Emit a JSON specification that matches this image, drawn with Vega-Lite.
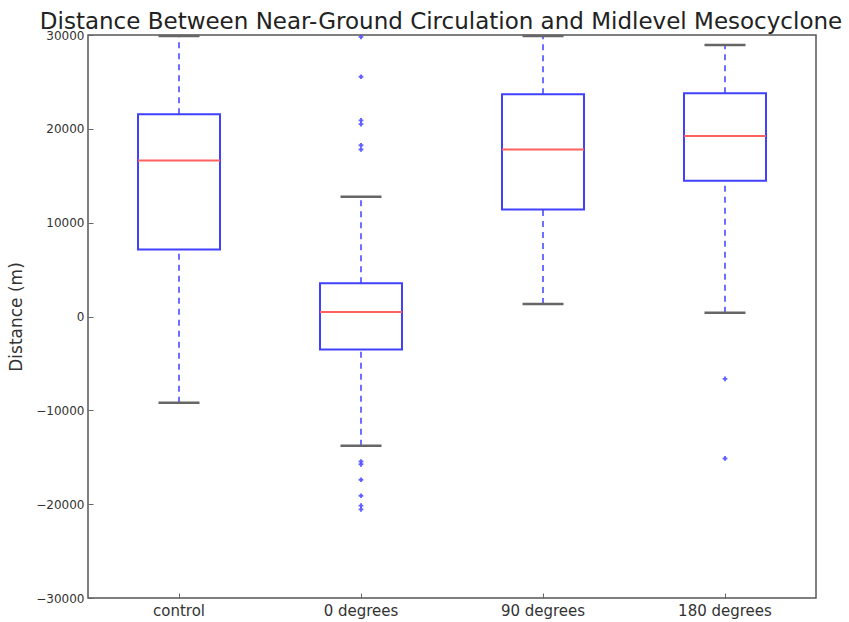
{
  "$schema": "https://vega.github.io/schema/vega-lite/v6.json",
  "width": 728,
  "height": 563,
  "autosize": {"type": "none"},
  "padding": {"left": 88, "top": 35, "right": 33, "bottom": 24},
  "background": "white",
  "title": {
    "text": "Distance Between Near-Ground Circulation and Midlevel Mesocyclone",
    "font": "DejaVu Sans",
    "fontSize": 23,
    "fontWeight": "normal",
    "color": "#222222",
    "anchor": "middle",
    "offset": -5,
    "dx": -11
  },
  "config": {
    "view": {"stroke": "#555555", "strokeWidth": 1.5},
    "axis": {
      "domain": false,
      "grid": false,
      "labelFont": "DejaVu Sans",
      "titleFont": "DejaVu Sans",
      "labelColor": "#333333",
      "titleColor": "#333333",
      "tickColor": "#666666",
      "titleFontWeight": "normal"
    }
  },
  "datasets": {
    "stats": [
      {"group": "control", "lower": -9180, "q1": 7140, "median": 16630, "q3": 21550, "upper": 29900},
      {"group": "0 degrees", "lower": -13780, "q1": -3510, "median": 480, "q3": 3550, "upper": 12750},
      {"group": "90 degrees", "lower": 1340, "q1": 11390, "median": 17810, "q3": 23690, "upper": 29900},
      {"group": "180 degrees", "lower": 410, "q1": 14460, "median": 19230, "q3": 23800, "upper": 28930}
    ],
    "outliers": [
      {"group": "0 degrees", "distance": 29800},
      {"group": "0 degrees", "distance": 25550},
      {"group": "0 degrees", "distance": 20900},
      {"group": "0 degrees", "distance": 20500},
      {"group": "0 degrees", "distance": 18250},
      {"group": "0 degrees", "distance": 17800},
      {"group": "0 degrees", "distance": -15450},
      {"group": "0 degrees", "distance": -15750},
      {"group": "0 degrees", "distance": -17400},
      {"group": "0 degrees", "distance": -19100},
      {"group": "0 degrees", "distance": -20150},
      {"group": "0 degrees", "distance": -20550},
      {"group": "180 degrees", "distance": -6650},
      {"group": "180 degrees", "distance": -15130}
    ]
  },
  "encoding": {
    "x": {
      "field": "group",
      "type": "nominal",
      "sort": ["control", "0 degrees", "90 degrees", "180 degrees"],
      "scale": {"paddingInner": 0, "paddingOuter": 0},
      "axis": {
        "title": null,
        "labelAngle": 0,
        "labelFontSize": 15,
        "tickSize": -5,
        "labelPadding": 10
      }
    }
  },
  "layer": [
    {
      "data": {"name": "stats"},
      "mark": {"type": "rule", "color": "#4040ff", "strokeWidth": 1.5, "strokeDash": [6, 5]},
      "encoding": {
        "y": {
          "field": "lower",
          "type": "quantitative",
          "scale": {"domain": [-30000, 30000], "nice": false, "zero": false},
          "axis": {
            "title": "Distance (m)",
            "titleFontSize": 17,
            "titlePadding": 10,
            "values": [-30000, -20000, -10000, 0, 10000, 20000, 30000],
            "format": "d",
            "labelExpr": "replace(datum.label, '-', '\u2212')",
            "labelFontSize": 12,
            "tickSize": -5,
            "labelPadding": 9
          }
        },
        "y2": {"field": "q1"}
      }
    },
    {
      "data": {"name": "stats"},
      "mark": {"type": "rule", "color": "#4040ff", "strokeWidth": 1.5, "strokeDash": [6, 5]},
      "encoding": {
        "y": {"field": "q3", "type": "quantitative"},
        "y2": {"field": "upper"}
      }
    },
    {
      "data": {"name": "stats"},
      "mark": {"type": "tick", "color": "#666666", "size": 41, "thickness": 2.5, "opacity": 1},
      "encoding": {"y": {"field": "lower", "type": "quantitative"}}
    },
    {
      "data": {"name": "stats"},
      "mark": {"type": "tick", "color": "#666666", "size": 41, "thickness": 2.5, "opacity": 1},
      "encoding": {"y": {"field": "upper", "type": "quantitative"}}
    },
    {
      "data": {"name": "stats"},
      "mark": {"type": "bar", "size": 82, "fill": "white", "fillOpacity": 0, "stroke": "#4040ff", "strokeWidth": 2},
      "encoding": {
        "y": {"field": "q1", "type": "quantitative"},
        "y2": {"field": "q3"}
      }
    },
    {
      "data": {"name": "stats"},
      "mark": {"type": "tick", "color": "#ff6060", "size": 82, "thickness": 2, "opacity": 1},
      "encoding": {"y": {"field": "median", "type": "quantitative"}}
    },
    {
      "data": {"name": "outliers"},
      "mark": {"type": "point", "shape": "cross", "filled": true, "color": "#5050ff", "size": 22, "opacity": 0.9},
      "encoding": {"y": {"field": "distance", "type": "quantitative"}}
    }
  ]
}
